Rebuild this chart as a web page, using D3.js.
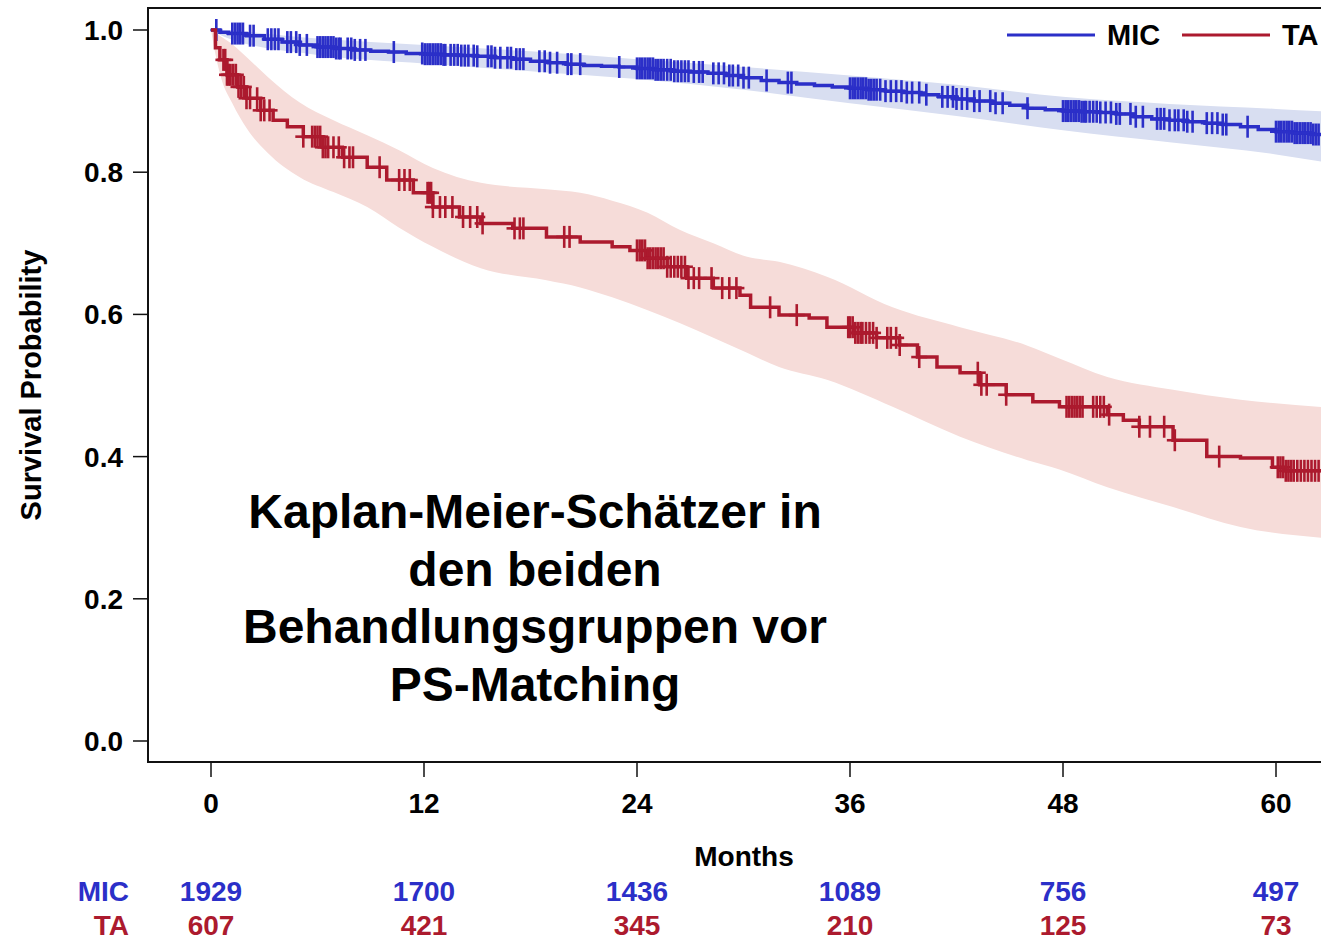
<!DOCTYPE html>
<html>
<head>
<meta charset="utf-8">
<script src="https://cdn.jsdelivr.net/npm/d3@7"></script>
<style>
  html, body { margin: 0; padding: 0; background: #fff; }
  svg { display: block; font-family: "Liberation Sans", Arial, sans-serif; }
</style>
</head>
<body>
<svg id="chart" width="1321" height="940"></svg>
<script>
// ---------------- DATA ----------------
const xTicks = [0, 12, 24, 36, 48, 60];
const yTicks = [0.0, 0.2, 0.4, 0.6, 0.8, 1.0];
const groups = ["MIC", "TA"];

const micAtRisk = [1929, 1700, 1436, 1089, 756, 497];
const taAtRisk  = [607, 421, 345, 210, 125, 73];

// MIC Kaplan-Meier estimate (months, survival)
const micTime = [0,0.5,1,2,3,4,5,6,7,8,9,10,11,12,13,14,15,16,17,18,19,20,21,22,23,24,25,26,27,28,29,30,31,32,33,34,35,36,37,38,39,40,41,42,43,44,45,46,47,48,49,50,51,52,53,54,55,56,57,58,59,60,61,62,63];
const micSurv = [1.0,0.997,0.995,0.992,0.987,0.983,0.979,0.976,0.974,0.972,0.970,0.969,0.967,0.966,0.965,0.964,0.963,0.961,0.959,0.956,0.954,0.952,0.950,0.949,0.948,0.946,0.944,0.942,0.941,0.939,0.936,0.933,0.929,0.926,0.924,0.922,0.920,0.918,0.916,0.914,0.912,0.909,0.906,0.903,0.900,0.897,0.894,0.890,0.888,0.886,0.885,0.884,0.882,0.878,0.875,0.873,0.871,0.869,0.867,0.864,0.860,0.857,0.855,0.853,0.852];

// MIC confidence band
const micBandTime  = [0, 1, 6, 12, 18, 24, 30, 36, 42, 48, 54, 60, 63];
const micBandUpper = [1.0, 0.999, 0.988, 0.979, 0.970, 0.959, 0.948, 0.936, 0.923, 0.906, 0.896, 0.889, 0.885];
const micBandLower = [1.0, 0.988, 0.965, 0.953, 0.942, 0.931, 0.916, 0.897, 0.879, 0.859, 0.842, 0.825, 0.813];

// TA Kaplan-Meier estimate (months, survival)
const taTime = [0,0.25,0.5,0.9,1.5,2,2.8,3.5,4.3,5.2,6.3,7.4,8.8,9.9,11.4,12.5,14,15.2,17,18.9,20.8,22.6,23.6,24.6,25.7,26.8,28.3,29.8,30.4,32,33.7,34.7,36.2,37.5,38.8,39.8,40.9,42.2,43.3,44.8,46.3,47.8,50.5,51.4,52.3,54.2,56.1,58,59.8,60.5,63];
const taSurv = [1.0,0.975,0.958,0.937,0.920,0.904,0.887,0.873,0.864,0.850,0.835,0.821,0.807,0.789,0.771,0.751,0.737,0.728,0.721,0.709,0.702,0.695,0.690,0.679,0.667,0.651,0.637,0.627,0.610,0.599,0.595,0.582,0.574,0.567,0.557,0.540,0.526,0.518,0.501,0.487,0.477,0.470,0.459,0.451,0.442,0.423,0.400,0.398,0.385,0.380,0.378];

// TA confidence band
const taBandTime  = [0, 0.3, 0.6, 1.2, 2, 3.2, 5, 6.9, 8.8, 10.6, 12.5, 15.2, 18.9, 20.8, 22.6, 24.6, 26.4, 28.3, 30.2, 32, 34.7, 38.4, 42.2, 46, 47.8, 50.5, 54.2, 58, 63];
const taBandUpper = [1.0, 0.995, 0.99, 0.98, 0.962, 0.934, 0.898, 0.873, 0.852, 0.831, 0.806, 0.785, 0.776, 0.771, 0.760, 0.743, 0.719, 0.700, 0.681, 0.674, 0.653, 0.610, 0.582, 0.556, 0.538, 0.512, 0.494, 0.480, 0.469];
const taBandLower = [1.0, 0.96, 0.93, 0.897, 0.862, 0.827, 0.793, 0.772, 0.751, 0.722, 0.695, 0.665, 0.648, 0.638, 0.624, 0.606, 0.588, 0.567, 0.546, 0.526, 0.508, 0.470, 0.428, 0.395, 0.382, 0.357, 0.329, 0.301, 0.285];

// Censoring times (months)
const micCensor = [0.3,1.2,1.35,1.5,1.65,1.8,2.2,2.4,3.2,3.4,3.6,3.8,4.3,4.5,4.8,5.0,5.4,
  6.0,6.15,6.3,6.45,6.6,6.75,6.9,7.05,7.2,7.3,7.7,7.9,8.1,8.4,8.7,10.3,
  11.9,12.05,12.2,12.35,12.5,12.65,12.8,12.95,13.1,13.2,13.5,13.7,13.9,14.1,14.3,14.5,14.8,15.0,
  15.6,15.8,16.0,16.3,16.7,16.9,17.2,17.4,17.6,18.5,18.8,19.1,19.5,20.1,20.3,20.8,23.0,
  24.0,24.15,24.3,24.45,24.6,24.75,24.9,25.05,25.2,25.35,25.5,25.7,25.9,26.1,26.3,26.5,26.7,26.9,27.2,27.5,27.7,
  28.3,28.6,28.9,29.2,29.4,29.7,30.0,30.3,31.3,32.5,32.7,
  36.0,36.15,36.3,36.45,36.6,36.75,36.9,37.05,37.2,37.35,37.5,37.7,38.0,38.3,38.6,38.9,39.2,39.5,39.9,40.3,
  41.2,41.5,41.8,42.0,42.3,42.6,43.0,43.3,43.9,44.2,44.6,46.0,
  48.0,48.15,48.3,48.45,48.6,48.75,48.9,49.05,49.2,49.3,49.5,49.7,49.9,50.1,50.4,50.7,51.0,51.2,51.8,52.1,52.5,
  53.3,53.5,53.7,54.0,54.3,54.5,54.8,55.0,55.3,56.1,56.4,56.7,57.0,57.2,58.4,
  60.0,60.15,60.3,60.45,60.6,60.75,60.9,61.05,61.2,61.35,61.5,61.65,61.8,61.95,62.1,62.25,62.4];
const taCensor = [0.7,0.8,0.9,1.0,1.1,1.25,1.4,1.55,1.7,1.85,2.0,2.2,2.6,2.8,3.0,3.3,5.2,
  5.7,5.85,6.0,6.15,6.3,6.45,6.6,6.9,7.2,7.5,7.8,8.0,9.5,10.6,10.9,11.2,12.2,12.3,12.4,12.5,
  12.9,13.2,13.6,14.2,14.6,15.0,15.3,17.1,17.4,17.6,19.9,20.2,
  24.0,24.15,24.3,24.45,24.6,24.75,24.9,25.05,25.2,25.35,25.5,25.7,25.9,26.1,26.3,26.5,26.7,26.9,27.2,27.5,
  28.2,28.8,29.2,29.6,31.5,33.0,35.9,36.0,36.15,36.3,36.45,36.6,36.7,36.9,37.1,37.3,37.5,
  38.1,38.3,38.6,38.8,39.9,43.2,43.4,43.7,44.8,48.2,48.35,48.5,48.65,48.8,48.95,49.1,
  49.7,49.9,50.1,50.3,50.6,52.3,52.9,53.7,54.3,56.8,
  60.1,60.25,60.4,60.55,60.7,60.85,61.0,61.2,61.4,61.6,61.8,62.0,62.2,62.4];

const titleLines = ["Kaplan-Meier-Schätzer in", "den beiden", "Behandlungsgruppen vor", "PS-Matching"];

// ---------------- STYLE ----------------
const micColor = "#2b2fc8", taColor = "#ac1a2e";
const micBand = "#d8def1", taBand = "#f6dcd9";
const font = "'Liberation Sans', Arial, sans-serif";

// ---------------- DRAW ----------------
const svg = d3.select("#chart");
const x = d3.scaleLinear().domain([0, 60]).range([211, 1276]);
const y = d3.scaleLinear().domain([0, 1]).range([741, 30]);
const frameLeft = 148, frameTop = 8, frameBottom = 762, frameRight = 1340;

svg.append("rect").attr("x", 0).attr("y", 0).attr("width", 1321).attr("height", 940).attr("fill", "#fff");

svg.append("defs").append("clipPath").attr("id", "clip")
  .append("rect").attr("x", frameLeft).attr("y", frameTop)
  .attr("width", frameRight - frameLeft).attr("height", frameBottom - frameTop);

const plot = svg.append("g").attr("clip-path", "url(#clip)");

function bandData(t, lo, hi) { return t.map((d, i) => ({ t: d, lo: lo[i], hi: hi[i] })); }
const area = d3.area().x(d => x(d.t)).y0(d => y(d.lo)).y1(d => y(d.hi)).curve(d3.curveMonotoneX);

plot.append("path").datum(bandData(micBandTime, micBandLower, micBandUpper))
  .attr("d", area).attr("fill", micBand);
plot.append("path").datum(bandData(taBandTime, taBandLower, taBandUpper))
  .attr("d", area).attr("fill", taBand);

const line = d3.line().x(d => x(d.t)).y(d => y(d.s)).curve(d3.curveStepAfter);
function curveData(t, s) { return t.map((d, i) => ({ t: d, s: s[i] })); }

function survAt(t, times, surv) {
  const i = d3.bisectRight(times, t) - 1;
  return surv[Math.max(0, i)];
}

function drawSeries(times, surv, censor, color, hArm) {
  plot.append("path").datum(curveData(times, surv))
    .attr("d", line).attr("fill", "none").attr("stroke", color).attr("stroke-width", 3.5);
  const g = plot.append("g").attr("stroke", color).attr("stroke-width", 2.6);
  censor.forEach(c => {
    const cx = x(c), cy = y(survAt(c, times, surv));
    g.append("line").attr("x1", cx).attr("x2", cx).attr("y1", cy - 11).attr("y2", cy + 11);
    g.append("line").attr("x1", cx - hArm).attr("x2", cx + hArm).attr("y1", cy).attr("y2", cy);
  });
}
drawSeries(micTime, micSurv, micCensor, micColor, 6);
drawSeries(taTime, taSurv, taCensor, taColor, 8);

// frame
svg.append("rect").attr("x", frameLeft).attr("y", frameTop)
  .attr("width", frameRight - frameLeft).attr("height", frameBottom - frameTop)
  .attr("fill", "none").attr("stroke", "#111").attr("stroke-width", 2);

// y axis
const yAxis = svg.append("g");
yTicks.forEach(v => {
  yAxis.append("line").attr("x1", 133).attr("x2", frameLeft).attr("y1", y(v)).attr("y2", y(v))
    .attr("stroke", "#111").attr("stroke-width", 1.5);
  yAxis.append("text").attr("x", 123).attr("y", y(v) + 10).attr("text-anchor", "end")
    .attr("font-family", font).attr("font-weight", "bold").attr("font-size", 28).attr("fill", "#000")
    .text(d3.format(".1f")(v));
});
svg.append("text").attr("transform", "translate(41,385) rotate(-90)").attr("text-anchor", "middle")
  .attr("font-family", font).attr("font-weight", "bold").attr("font-size", 29).attr("fill", "#000")
  .text("Survival Probability");

// x axis
const xAxis = svg.append("g");
xTicks.forEach(v => {
  xAxis.append("line").attr("x1", x(v)).attr("x2", x(v)).attr("y1", frameBottom).attr("y2", 777)
    .attr("stroke", "#111").attr("stroke-width", 1.5);
  xAxis.append("text").attr("x", x(v)).attr("y", 813).attr("text-anchor", "middle")
    .attr("font-family", font).attr("font-weight", "bold").attr("font-size", 28).attr("fill", "#000")
    .text(v);
});
svg.append("text").attr("x", 744).attr("y", 866).attr("text-anchor", "middle")
  .attr("font-family", font).attr("font-weight", "bold").attr("font-size", 28).attr("fill", "#000")
  .text("Months");

// at-risk table
const riskRows = [{ name: groups[0], vals: micAtRisk, color: micColor, yb: 901 },
                  { name: groups[1], vals: taAtRisk, color: taColor, yb: 935 }];
riskRows.forEach(r => {
  svg.append("text").attr("x", 129).attr("y", r.yb).attr("text-anchor", "end")
    .attr("font-family", font).attr("font-weight", "bold").attr("font-size", 28).attr("fill", r.color)
    .text(r.name);
  r.vals.forEach((v, i) => {
    svg.append("text").attr("x", x(xTicks[i])).attr("y", r.yb).attr("text-anchor", "middle")
      .attr("font-family", font).attr("font-weight", "bold").attr("font-size", 28).attr("fill", r.color)
      .text(v);
  });
});

// legend
const legend = [{ name: groups[0], color: micColor, x0: 1007 }, { name: groups[1], color: taColor, x0: 1182 }];
legend.forEach(l => {
  svg.append("line").attr("x1", l.x0).attr("x2", l.x0 + 88).attr("y1", 35).attr("y2", 35)
    .attr("stroke", l.color).attr("stroke-width", 3);
  svg.append("text").attr("x", l.x0 + 100).attr("y", 45)
    .attr("font-family", font).attr("font-weight", "bold").attr("font-size", 29).attr("fill", "#000")
    .text(l.name);
});

// in-plot title
const title = svg.append("text").attr("text-anchor", "middle")
  .attr("font-family", font).attr("font-weight", "bold").attr("font-size", 48).attr("fill", "#000");
titleLines.forEach((t, i) => {
  title.append("tspan").attr("x", 535).attr("y", 528 + i * 57.5).text(t);
});
</script>
</body>
</html>
